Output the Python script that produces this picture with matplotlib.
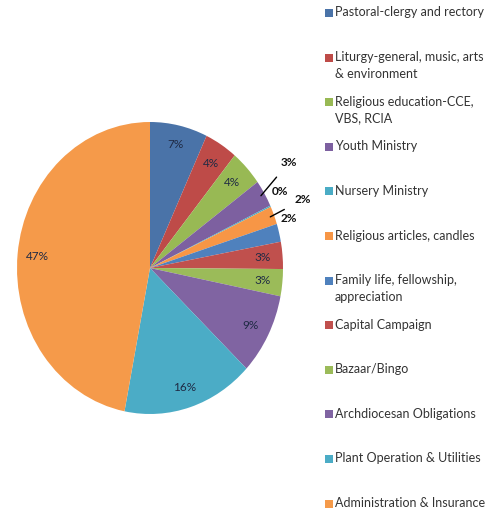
import numpy as np
import matplotlib
matplotlib.use("Agg")
import matplotlib.pyplot as plt
from matplotlib.patches import Rectangle
from matplotlib import font_manager

# Daten (Anteile in %)
kategorien = [
    "Pastoral-clergy and rectory",
    "Liturgy-general, music, arts\n& environment",
    "Religious education-CCE,\nVBS, RCIA",
    "Youth Ministry",
    "Nursery Ministry",
    "Religious articles, candles",
    "Family life, fellowship,\nappreciation",
    "Capital Campaign",
    "Bazaar/Bingo",
    "Archdiocesan Obligations",
    "Plant Operation & Utilities",
    "Administration & Insurance",
]
anteile = [7, 4, 4, 3, 0.15, 2, 2, 3, 3, 9, 16, 47]
labels_pct = ["7%", "4%", "4%", "3%", "0%", "2%", "2%", "3%", "3%", "9%", "16%", "47%"]

farben = ["#4A73A8", "#BE4B48", "#98B954", "#7D60A0", "#4AACC5", "#F79646",
          "#4F81BD", "#C0504D", "#9BBB59", "#8064A2", "#4BACC6", "#F59A4A"]

# Label-Stil pro Stück: Radius, Winkelversatz, Leader-Linie
lab_r = [0.87, 0.85, 0.85, 1.27, 1.11, 1.24, 1.10, 0.85, 0.85, 0.85, 0.86, 0.85]
lab_dt = [0, 0, 0, 4, 3, 1, 4, 0, 0, 0, 0, 0]
leader = [False, False, False, True, False, True, False, False, False, False, False, False]

# schmale Schrift wählen, falls vorhanden
schrift = "DejaVu Sans"
for f in ["Liberation Sans Narrow", "Lato"]:
    try:
        font_manager.findfont(f, fallback_to_default=False)
        schrift = f
        break
    except Exception:
        pass
plt.rcParams["font.family"] = [schrift, "DejaVu Sans"]

fig = plt.figure(figsize=(5.01, 5.12), dpi=100)
ax = fig.add_axes([17 / 501, 1 - 414 / 512, 266 / 501, 292 / 512])
wedges, _ = ax.pie(anteile, colors=farben, startangle=90, counterclock=False,
                   wedgeprops=dict(linewidth=0))
ax.set_aspect("auto")
ax.set_xlim(-1, 1)
ax.set_ylim(-1, 1)
ax.axis("off")

for i, w in enumerate(wedges):
    mid = (w.theta1 + w.theta2) / 2 + lab_dt[i]
    t = np.deg2rad(mid)
    x, y = lab_r[i] * np.cos(t), lab_r[i] * np.sin(t)
    aussen = lab_r[i] > 1
    kw = dict(fontsize=8.5, ha="center", va="center",
              color="#111111" if aussen else "#1f2a44",
              fontweight="bold" if aussen else "normal")
    if leader[i]:
        tm = np.deg2rad((w.theta1 + w.theta2) / 2)
        ax.annotate(labels_pct[i], xy=(0.97 * np.cos(tm), 0.97 * np.sin(tm)),
                    xytext=(x, y), textcoords="data",
                    arrowprops=dict(arrowstyle="-", color="black", lw=1,
                                    shrinkA=6, shrinkB=0),
                    annotation_clip=False, **kw)
    else:
        ax.text(x, y, labels_pct[i], **kw)

# Legende
for i, (kat, col) in enumerate(zip(kategorien, farben)):
    ytop = 13 + 44.6 * i
    fig.patches.append(Rectangle((325 / 501, 1 - (ytop + 4) / 512), 8 / 501, 8 / 512,
                                 transform=fig.transFigure, facecolor=col,
                                 edgecolor="none"))
    fig.text(335 / 501, 1 - (ytop - 6.5) / 512, kat, fontsize=9, color="#333333",
             va="top", ha="left", linespacing=1.45)

fig.savefig("out.png", dpi=100, facecolor="white")
